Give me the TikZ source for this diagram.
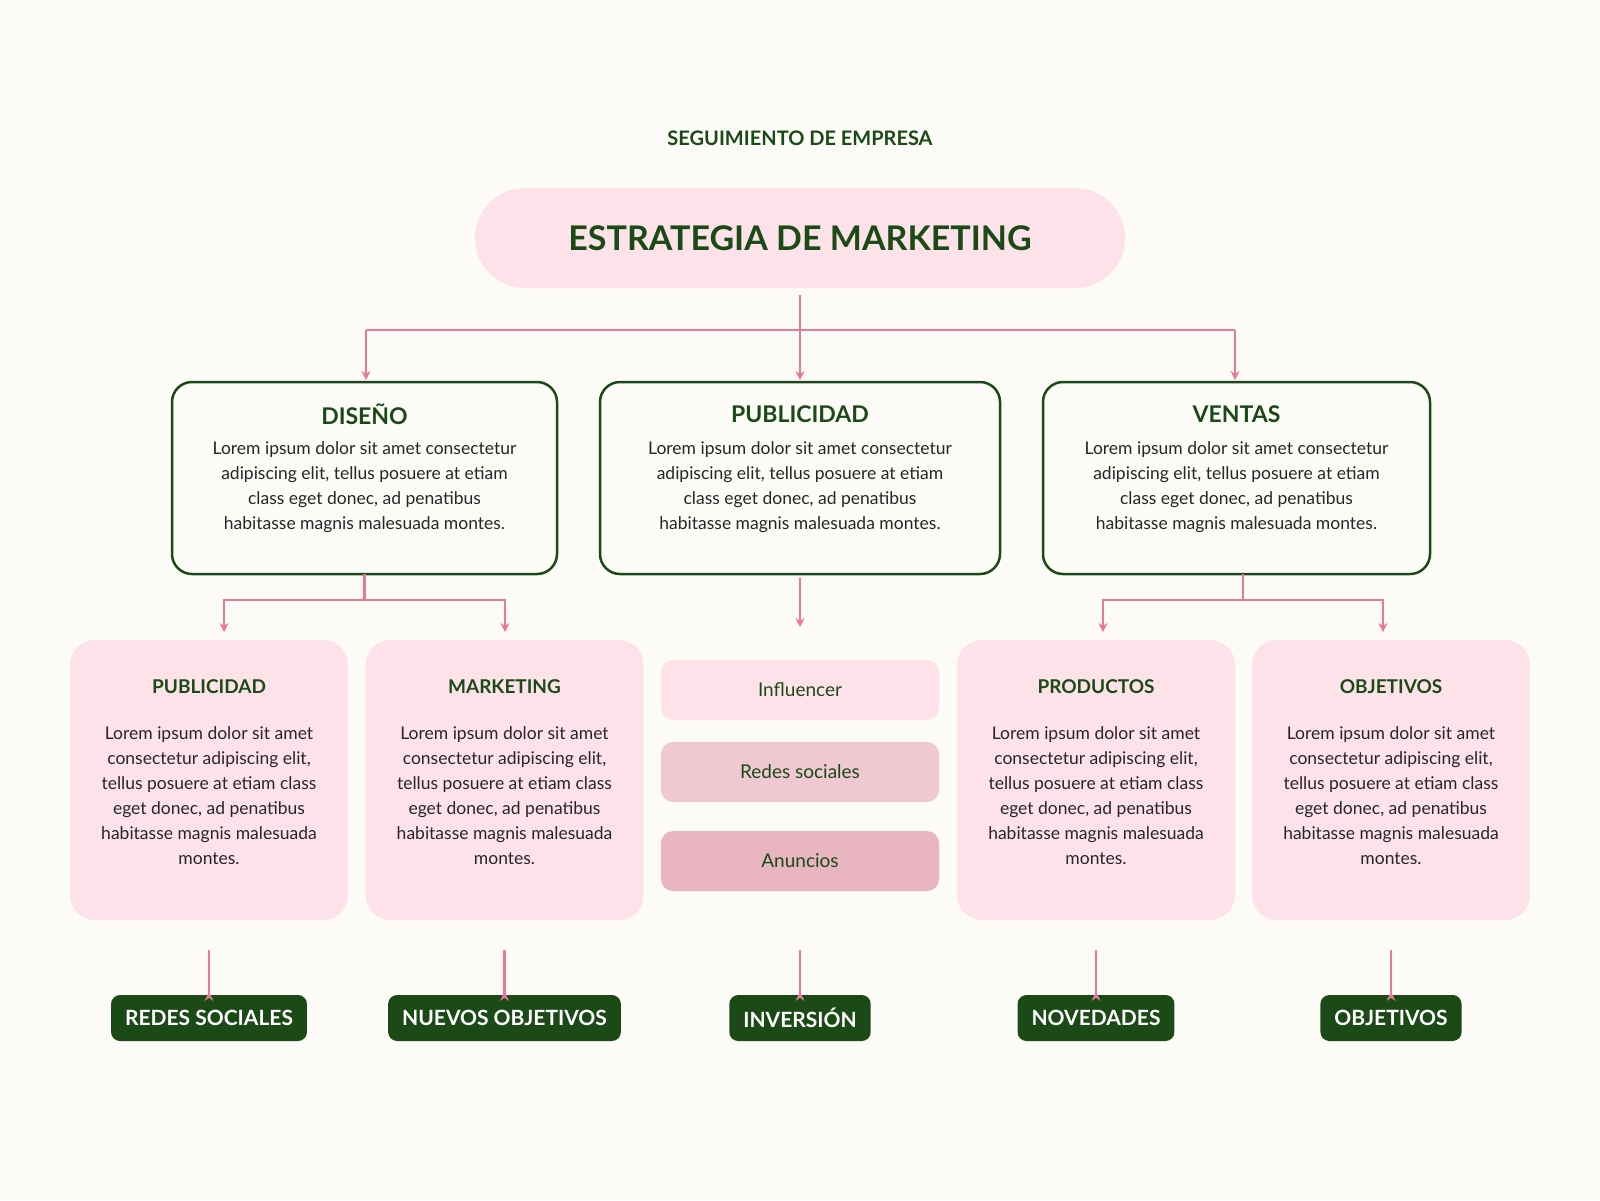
\documentclass[tikz,border=0pt]{standalone}
\usepackage{fontspec}
\setmainfont{Lato}
\usetikzlibrary{arrows.meta}
\definecolor{bg}{HTML}{FDFBF7}
\definecolor{dg}{HTML}{1B4A17}
\definecolor{pk}{HTML}{E87898}
\definecolor{lp}{HTML}{FDE3E9}
\definecolor{mp}{HTML}{EFC8D1}
\definecolor{dp}{HTML}{E8B5C1}
\begin{document}
\begin{tikzpicture}[x=1pt,y=-1pt,
  conn/.style={draw=pk,line width=2.5pt},
  arr/.style={conn,-{Stealth[length=9pt,width=9pt]}},
  bigbox/.style={draw=dg,line width=2.5pt,rounded corners=20pt,fill=bg,minimum width=#1,minimum height=192pt},
  card/.style={fill=lp,rounded corners=25pt,minimum width=278pt,minimum height=280pt},
  mid/.style={fill=#1,rounded corners=12pt,minimum width=278pt,minimum height=60pt,text=dg,font=\fontsize{19}{22}\selectfont},
  tag/.style={fill=dg,rounded corners=9pt,minimum height=46pt,text=white,font=\bfseries\fontsize{21}{24}\selectfont,inner xsep=14pt},
  ttl/.style={text=dg,font=\bfseries\fontsize{#1}{#1}\selectfont},
  body/.style={text=black!85,align=center,font=\fontsize{17.5}{25}\selectfont}]
\fill[bg] (0,0) rectangle (1600,1200);
\useasboundingbox (0,0) rectangle (1600,1200);
\node[ttl=20] (sup) at (800,138) {SEGUIMIENTO DE EMPRESA};
\node[fill=lp,rounded corners=50pt,minimum width=650pt,minimum height=100pt,ttl=34] (top) at (800,238) {ESTRATEGIA DE MARKETING};
\def\lorem{Lorem ipsum dolor sit amet consectetur\\adipiscing elit, tellus posuere at etiam\\class eget donec, ad penatibus\\habitasse magnis malesuada montes.}
\node[bigbox=385pt] (b1) at (364.5,478) {};
\node[bigbox=400pt] (b2) at (800,478) {};
\node[bigbox=387pt] (b3) at (1236.5,478) {};
\foreach \b/\t/\x in {b1/DISEÑO/364.5,b2/PUBLICIDAD/800,b3/VENTAS/1236.5}{
  \node[ttl=23] (\b t) at (\x,414) {\t};
  \node[body,anchor=north] (\b x) at (\x,438) {\lorem};
}
\coordinate (j0) at (800,330);
\coordinate (jl) at (366,330);
\coordinate (jr) at (1235,330);
\draw[conn] (top.south) ++(0,7) -- (j0);
\draw[conn] (jl) -- (jr);
\draw[arr] (jl) -- (366,380);
\draw[arr] (j0) -- (800,380);
\draw[arr] (jr) -- (1235,380);
\def\lorb{Lorem ipsum dolor sit amet\\consectetur adipiscing elit,\\tellus posuere at etiam class\\eget donec, ad penatibus\\habitasse magnis malesuada\\montes.}
\foreach \n/\t/\x in {c1/PUBLICIDAD/209,c2/MARKETING/504.5,c4/PRODUCTOS/1096,c5/OBJETIVOS/1391}{
  \node[card] (\n) at (\x,780) {};
  \node[ttl=19] (\n t) at (\x,687) {\t};
  \node[body,anchor=north] (\n x) at (\x,723) {\lorb};
}
\node[mid=lp] (m1) at (800,690) {Influencer};
\node[mid=mp] (m2) at (800,772) {Redes sociales};
\node[mid=dp] (m3) at (800,861) {Anuncios};
\coordinate (d1) at (364.5,600);
\coordinate (d3) at (1243,600);
\draw[conn] (364.5,574) -- (d1);
\draw[conn] (224,600) -- (505,600);
\draw[arr] (224,599) -- (224,632);
\draw[arr] (505,599) -- (505,632);
\draw[conn] (1243,574) -- (d3);
\draw[conn] (1103,600) -- (1383,600);
\draw[arr] (1103,599) -- (1103,632);
\draw[arr] (1383,599) -- (1383,632);
\draw[arr] (b2.south) ++(0,3) -- (800,627);
\foreach \n/\t/\x in {t1/REDES SOCIALES/209,t2/NUEVOS OBJETIVOS/504.5,t3/INVERSIÓN/800,t4/NOVEDADES/1096,t5/OBJETIVOS/1391}{
  \node[tag] (\n) at (\x,1018) {\t};
  \draw[arr] (\x,950) -- (\n.north) ++(0,-3);
}
\end{tikzpicture}
\end{document}
